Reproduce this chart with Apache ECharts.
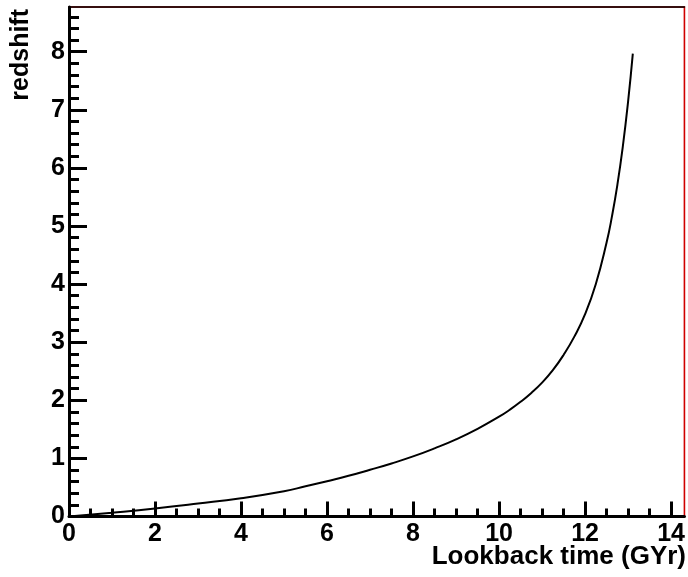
<!DOCTYPE html>
<html>
<head>
<meta charset="utf-8">
<script src="https://cdn.jsdelivr.net/npm/echarts@6/dist/echarts.min.js"></script>
<style>html,body{margin:0;padding:0;background:#fff}#c{width:688px;height:577px}</style>
</head>
<body>
<div id="c"></div>
<script>
// Lookback time (GYr) and redshift
var timeGyr = [0, 1, 2, 3, 4, 5, 5.5, 6, 6.5, 7, 7.5, 8, 8.5, 9, 9.5, 10, 10.25, 10.5, 10.75, 11, 11.25, 11.5, 11.75, 12, 12.25, 12.5, 12.625, 12.75, 12.875, 13.0, 13.11];
var redshift = [0, 0.065, 0.137, 0.222, 0.315, 0.435, 0.52, 0.608, 0.70, 0.804, 0.913, 1.034, 1.173, 1.328, 1.509, 1.718, 1.838, 1.974, 2.127, 2.304, 2.518, 2.781, 3.096, 3.482, 4.003, 4.716, 5.166, 5.704, 6.354, 7.141, 7.966];

var xMajorTicks = [0, 2, 4, 6, 8, 10, 12, 14];
var xMinorTicks = [0.5, 1, 1.5, 2.5, 3, 3.5, 4.5, 5, 5.5, 6.5, 7, 7.5, 8.5, 9, 9.5, 10.5, 11, 11.5, 12.5, 13, 13.5];
var yMajorTicks = [0, 1, 2, 3, 4, 5, 6, 7, 8];
var yMinorTicks = [0.2, 0.4, 0.6, 0.8, 1.2, 1.4, 1.6, 1.8, 2.2, 2.4, 2.6, 2.8, 3.2, 3.4, 3.6, 3.8, 4.2, 4.4, 4.6, 4.8, 5.2, 5.4, 5.6, 5.8, 6.2, 6.4, 6.6, 6.8, 7.2, 7.4, 7.6, 7.8, 8.2, 8.4, 8.6];
var xTitle = 'Lookback time (GYr)';
var yTitle = 'redshift';

var X_MIN = 0, X_MAX = 14.31, Y_MIN = 0, Y_MAX = 8.77;
var FONT = 'Liberation Sans, Arial, sans-serif';

var data = timeGyr.map(function (t, i) { return [t, redshift[i]]; });

var chart = echarts.init(document.getElementById('c'), null, {renderer: 'canvas'});
chart.setOption({
  animation: false,
  backgroundColor: '#fff',
  grid: {left: 69, right: 2.7, top: 7, bottom: 60.5, show: true, borderColor: '#d00000', borderWidth: 1.6, backgroundColor: 'transparent'},
  xAxis: [
    {
      type: 'value', min: X_MIN, max: X_MAX, position: 'bottom', offset: 2.5,
      axisLine: {show: true, lineStyle: {color: '#000', width: 3}},
      axisTick: {show: true, inside: true, length: 15, customValues: xMajorTicks, lineStyle: {color: '#000', width: 3}},
      axisLabel: {show: true, customValues: xMajorTicks, color: '#000', fontFamily: FONT, fontWeight: 'bold', fontSize: 25, margin: 3},
      splitLine: {show: false}
    },
    {
      type: 'value', min: X_MIN, max: X_MAX, position: 'bottom', offset: 2.5,
      axisLine: {show: false},
      axisTick: {show: true, inside: true, length: 8, customValues: xMinorTicks, lineStyle: {color: '#000', width: 3}},
      axisLabel: {show: false},
      splitLine: {show: false}
    },
    {
      type: 'value', min: X_MIN, max: X_MAX, position: 'top',
      axisLine: {show: true, lineStyle: {color: '#000', width: 1.6}},
      axisTick: {show: false}, axisLabel: {show: false}, splitLine: {show: false}
    }
  ],
  yAxis: [
    {
      type: 'value', min: Y_MIN, max: Y_MAX, position: 'left',
      axisLine: {show: true, lineStyle: {color: '#000', width: 3}},
      axisTick: {show: true, inside: true, length: 18, customValues: yMajorTicks, lineStyle: {color: '#000', width: 3}},
      axisLabel: {show: true, customValues: yMajorTicks, color: '#000', fontFamily: FONT, fontWeight: 'bold', fontSize: 25, margin: 4, padding: [9, 0, 0, 0]},
      splitLine: {show: false}
    },
    {
      type: 'value', min: Y_MIN, max: Y_MAX, position: 'left',
      axisLine: {show: false},
      axisTick: {show: true, inside: true, length: 10, customValues: yMinorTicks, lineStyle: {color: '#000', width: 3}},
      axisLabel: {show: false},
      splitLine: {show: false}
    }
  ],
  graphic: [
    {type: 'text', right: 2, top: 544, style: {text: xTitle, font: 'bold 26px ' + FONT, fill: '#000'}},
    {type: 'text', x: 34, y: 9, rotation: Math.PI / 2, style: {text: yTitle, font: 'bold 25px ' + FONT, fill: '#000', textAlign: 'right', textVerticalAlign: 'bottom'}}
  ],
  series: [{
    type: 'line', xAxisIndex: 0, yAxisIndex: 0, data: data,
    showSymbol: false, smooth: 0.5,
    lineStyle: {color: '#000', width: 2}, z: 3
  }]
});
</script>
</body>
</html>
